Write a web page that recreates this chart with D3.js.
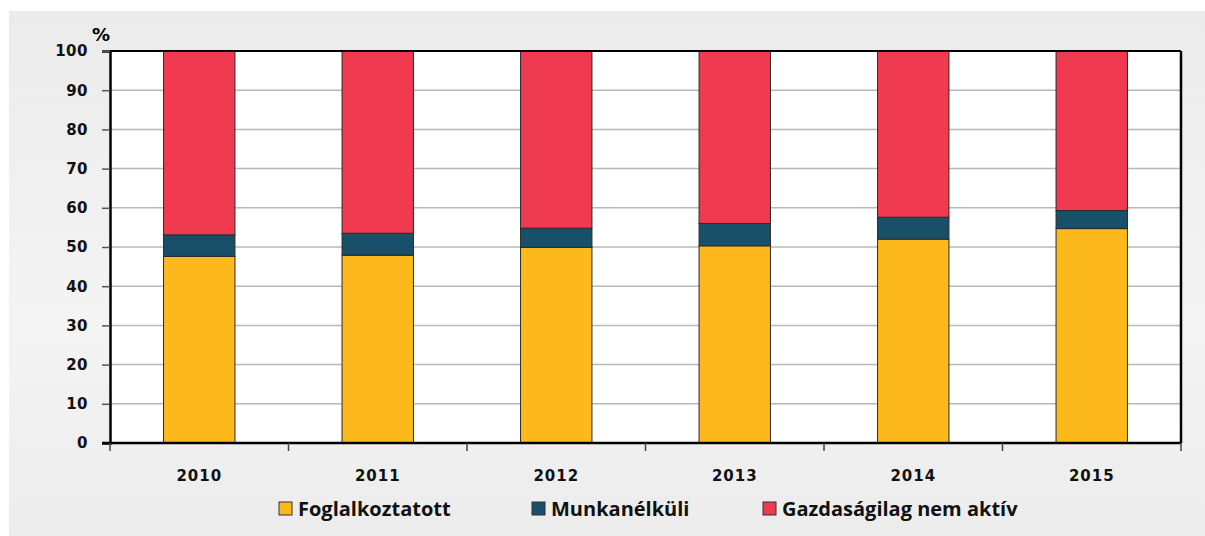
<!DOCTYPE html>
<head>
	<meta charset="utf-8">
	<title>Foglalkoztatottság</title>
	<style>
		body {
			margin: 0;
			padding: 0;
			background-color: #fff;
		}
		.tick text {
			font-family: 'DejaVu Sans', sans-serif;
			font-weight: bold;
			font-size: 15px;
			fill: #111;
		}
		.legend text {
			font-family: 'Open Sans', sans-serif;
			font-weight: 700;
			font-size: 20px;
			fill: #111;
		}
	</style>
</head>
<body>
	<div id='vis'></div>

	<script src="https://cdn.jsdelivr.net/npm/d3@7/dist/d3.min.js"></script>
	<script>
		var years = ['2010', '2011', '2012', '2013', '2014', '2015'],
				employed = [47.6, 47.9, 49.9, 50.3, 52.0, 54.7],
				unemployed = [5.5, 5.6, 4.9, 5.7, 5.6, 4.6],
				inactive = [46.9, 46.5, 45.2, 44.0, 42.4, 40.7],
				seriesNames = ['Foglalkoztatott', 'Munkanélküli', 'Gazdaságilag nem aktív'],
				yTicks = [0, 10, 20, 30, 40, 50, 60, 70, 80, 90, 100];

		var colors = ['#fdb81c', '#18506a', '#f03a50'];

		var width = 1205,
				height = 536,
				plotLeft = 110,
				plotRight = 1181,
				plotTop = 51,
				plotBottom = 443;

		var svg = d3.select('#vis').append('svg')
			.attr('width', width)
			.attr('height', height);

		var grad = svg.append('defs').append('linearGradient')
			.attr('id', 'bg')
			.attr('x1', 0).attr('y1', 0).attr('x2', 0).attr('y2', 1);
		grad.append('stop').attr('offset', '0%').attr('stop-color', '#ebebeb');
		grad.append('stop').attr('offset', '60%').attr('stop-color', '#f4f4f4');
		grad.append('stop').attr('offset', '100%').attr('stop-color', '#ececec');

		svg.append('rect')
			.attr('x', 9).attr('y', 11)
			.attr('width', width - 9).attr('height', height - 11)
			.attr('fill', 'url(#bg)');

		var x = d3.scaleBand().domain(years).range([plotLeft, plotRight]).paddingInner(0).paddingOuter(0);
		var y = d3.scaleLinear().domain([0, 100]).range([plotBottom, plotTop]);

		svg.append('rect')
			.attr('x', plotLeft).attr('y', plotTop)
			.attr('width', plotRight - plotLeft).attr('height', plotBottom - plotTop)
			.attr('fill', '#fff');

		// gridlines
		svg.append('g')
			.selectAll('line')
			.data(yTicks.slice(1, -1))
			.enter().append('line')
				.attr('x1', plotLeft).attr('x2', plotRight)
				.attr('y1', function(d) { return y(d); })
				.attr('y2', function(d) { return y(d); })
				.attr('stroke', '#b8b8b8')
				.attr('stroke-width', 1.5);

		// stack the three series
		var rows = years.map(function(yr, i) {
			return { year: yr, s0: employed[i], s1: unemployed[i], s2: inactive[i] };
		});
		var stack = d3.stack().keys(['s0', 's1', 's2'])(rows);

		var bw = x.bandwidth() * 0.4;

		svg.append('g')
			.selectAll('g')
			.data(stack)
			.enter().append('g')
				.attr('fill', function(d, i) { return colors[i]; })
			.selectAll('rect')
			.data(function(d) { return d; })
			.enter().append('rect')
				.attr('x', function(d) { return x(d.data.year) + (x.bandwidth() - bw) / 2; })
				.attr('y', function(d) { return y(Math.min(d[1], 100)); })
				.attr('width', bw)
				.attr('height', function(d) { return y(d[0]) - y(Math.min(d[1], 100)); })
				.attr('stroke', '#2a2a2a')
				.attr('stroke-width', 1);

		// y axis
		var yAxis = svg.append('g')
			.attr('transform', 'translate(' + plotLeft + ',0)')
			.call(d3.axisLeft(y).tickValues(yTicks).tickSize(8).tickPadding(14));
		yAxis.select('.domain').attr('stroke', '#000').attr('stroke-width', 2.5);
		yAxis.selectAll('.tick line').attr('stroke', '#555').attr('stroke-width', 1.5);
		yAxis.selectAll('.tick text').attr('letter-spacing', '0.5px');

		// x axis
		var xAxis = svg.append('g')
			.attr('transform', 'translate(0,' + plotBottom + ')')
			.call(d3.axisBottom(x).tickSize(0).tickPadding(27));
		xAxis.select('.domain').remove();
		xAxis.selectAll('.tick text').attr('letter-spacing', '1px');

		svg.append('line')
			.attr('x1', plotLeft - 8).attr('x2', plotRight)
			.attr('y1', plotBottom).attr('y2', plotBottom)
			.attr('stroke', '#000').attr('stroke-width', 2.5);

		svg.append('g')
			.selectAll('line')
			.data(years.concat(['end']))
			.enter().append('line')
				.attr('x1', function(d, i) { return plotLeft + i * x.bandwidth(); })
				.attr('x2', function(d, i) { return plotLeft + i * x.bandwidth(); })
				.attr('y1', plotBottom).attr('y2', plotBottom + 8)
				.attr('stroke', '#444').attr('stroke-width', 1.5);

		svg.append('line')
			.attr('x1', plotRight).attr('x2', plotRight)
			.attr('y1', plotTop).attr('y2', plotBottom)
			.attr('stroke', '#000').attr('stroke-width', 2.5);
		svg.append('line')
			.attr('x1', plotLeft).attr('x2', plotRight)
			.attr('y1', plotTop).attr('y2', plotTop)
			.attr('stroke', '#000').attr('stroke-width', 2);

		svg.append('text')
			.attr('x', 101).attr('y', 41)
			.attr('text-anchor', 'middle')
			.style('font-family', "'DejaVu Sans', sans-serif")
			.style('font-weight', 'bold')
			.style('font-size', '18px')
			.text('%');

		// legend
		var legendX = [279, 532, 763];
		var legend = svg.append('g')
			.attr('class', 'legend')
			.selectAll('g')
			.data(seriesNames)
			.enter().append('g')
				.attr('transform', function(d, i) { return 'translate(' + legendX[i] + ',502)'; });

		legend.append('rect')
			.attr('width', 13).attr('height', 13)
			.attr('fill', function(d, i) { return colors[i]; })
			.attr('stroke', '#333').attr('stroke-width', 1);

		legend.append('text')
			.attr('x', 19).attr('y', 14)
			.text(function(d) { return d; });
	</script>
</body>
